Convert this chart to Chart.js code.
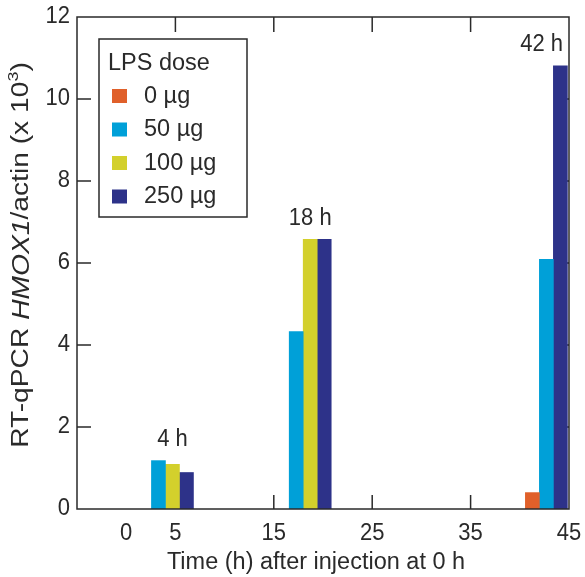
<!DOCTYPE html>
<html>
<head>
<meta charset="utf-8">
<script src="https://cdn.jsdelivr.net/npm/chart.js@4"></script>
<style>
  html,body{margin:0;padding:0;background:#fff}
  #wrap{width:585px;height:577px}
</style>
</head>
<body>
<div id="wrap"><canvas id="c" width="585" height="577"></canvas></div>
<script>
// ---- data ----
const doses = ['0 µg', '50 µg', '100 µg', '250 µg'];
const groupX = [4.7, 18.7, 42.7];          // group centres
const groupLabels = ['4 h', '18 h', '42 h'];
const dose0   = [null, null, 0.40];
const dose50  = [1.18, 4.33, 6.09];
const dose100 = [1.09, 6.58, null];
const dose250 = [0.89, 6.58, 10.81];
const xTicks = [0, 5, 15, 25, 35, 45];
const yTicks = [0, 2, 4, 6, 8, 10, 12];

// ---- style ----
const doseColors = ['#e0602a', '#00a0d8', '#d3d02c', '#2d3289'];
const INK = '#2a2a2a';
const FONT = '"Liberation Sans", Arial, sans-serif';
const SY = 1.05;      // slight vertical stretch of lettering
const SY_TITLE = 1.2; // y title runs longer in the original

function txt(ctx, s, x, y, size, align, italic){
  ctx.save();
  ctx.translate(x, y);
  ctx.scale(1, SY);
  ctx.font = (italic ? 'italic ' : '') + size + 'px ' + FONT;
  ctx.fillStyle = INK;
  ctx.textAlign = align || 'center';
  ctx.textBaseline = 'middle';
  ctx.fillText(s, 0, 0);
  ctx.restore();
}

const series = [dose0, dose50, dose100, dose250];

const frame = {
  id: 'frame',
  // inward ticks, under the bars
  beforeDatasetsDraw(chart){
    const {ctx, chartArea: a, scales: {x, y}} = chart;
    ctx.save();
    ctx.strokeStyle = INK; ctx.lineWidth = 1.5;
    ctx.beginPath();
    x.ticks.forEach(t => {
      if (t.value <= x.min || t.value >= x.max || t.value === 0) return;
      const px = x.getPixelForValue(t.value);
      ctx.moveTo(px, a.bottom); ctx.lineTo(px, a.bottom - 14);
      ctx.moveTo(px, a.top); ctx.lineTo(px, a.top + 15);
    });
    y.ticks.forEach(t => {
      if (t.value <= y.min || t.value >= y.max) return;
      const py = y.getPixelForValue(t.value);
      ctx.moveTo(a.left, py); ctx.lineTo(a.left + 14, py);
      ctx.moveTo(a.right, py); ctx.lineTo(a.right - 7, py);
    });
    ctx.stroke();
    ctx.restore();
  },
  afterDatasetsDraw(chart){
    const {ctx, chartArea: a, scales: {x, y}} = chart;
    ctx.save();
    ctx.strokeStyle = INK; ctx.lineWidth = 1.5;
    ctx.strokeRect(a.left, a.top, a.right - a.left, a.bottom - a.top);

    // tick labels
    y.ticks.forEach(t => txt(ctx, String(t.value), a.left - 7, y.getPixelForValue(t.value), 22, 'right'));
    x.ticks.forEach(t => txt(ctx, String(t.value), x.getPixelForValue(t.value), a.bottom + 25, 22, 'center'));

    // x title
    txt(ctx, 'Time (h) after injection at 0 h', (a.left + a.right) / 2 - 7, a.bottom + 53, 23.5, 'center');

    // y title with italic gene name and superscript
    const runs = [
      ['RT-qPCR ', 23.5, false, 0],
      ['HMOX1', 23.5, true, 0],
      ['/actin (x 10', 23.5, false, 0],
      ['3', 15, false, -8],
      [')', 23.5, false, 0]
    ];
    let total = 0;
    runs.forEach(r => { ctx.font = (r[2] ? 'italic ' : '') + r[1] + 'px ' + FONT; r.push(ctx.measureText(r[0]).width); total += r[4]; });
    ctx.save();
    ctx.translate(22, (a.top + a.bottom) / 2 - 8);
    ctx.scale(1, SY_TITLE);
    ctx.rotate(-Math.PI / 2);
    ctx.fillStyle = INK; ctx.textBaseline = 'middle'; ctx.textAlign = 'left';
    let cx = -total / 2;
    runs.forEach(r => {
      ctx.font = (r[2] ? 'italic ' : '') + r[1] + 'px ' + FONT;
      ctx.fillText(r[0], cx, r[3]);
      cx += r[4];
    });
    ctx.restore();

    // time labels over each group
    groupX.forEach((gx, i) => {
      const top = Math.max(...series.map(s => s[i] == null ? 0 : s[i]));
      ctx.font = '22px ' + FONT;
      const w = ctx.measureText(groupLabels[i]).width;
      const cxl = Math.min(x.getPixelForValue(gx), a.right - 6 - w / 2);
      txt(ctx, groupLabels[i], cxl, y.getPixelForValue(top) - 21, 22, 'center');
    });

    // legend box
    const lx = a.left + 22, ly = a.top + 22;
    ctx.strokeRect(lx, ly, 148, 178);
    txt(ctx, 'LPS dose', lx + 9, ly + 24, 23.5, 'left');
    doses.forEach((d, k) => {
      const cy = ly + 57 + k * 33.5;
      ctx.fillStyle = doseColors[k];
      ctx.fillRect(lx + 13, cy - 7, 15, 14);
      txt(ctx, d, lx + 45, cy, 23.5, 'left');
    });
    ctx.restore();
  }
};

new Chart(document.getElementById('c'), {
  type: 'bar',
  data: {
    datasets: doses.map((d, k) => ({
      label: d,
      data: groupX.map((gx, i) => ({x: gx, y: series[k][i]})),
      backgroundColor: doseColors[k],
      barThickness: 14,
      skipNull: true
    }))
  },
  options: {
    responsive: false,
    animation: false,
    layout: {padding: {left: 0, right: 16, top: 17, bottom: 0}},
    plugins: {legend: {display: false}, tooltip: {enabled: false}},
    scales: {
      x: {
        type: 'linear', min: -5, max: 45, offset: false,
        grid: {display: false, offset: false}, border: {display: false},
        ticks: {display: false},
        afterBuildTicks: s => { s.ticks = xTicks.map(v => ({value: v})); },
        afterFit: s => { s.height = 68; }
      },
      y: {
        min: 0, max: 12,
        grid: {display: false}, border: {display: false},
        ticks: {display: false},
        afterBuildTicks: s => { s.ticks = yTicks.map(v => ({value: v})); },
        afterFit: s => { s.width = 77; }
      }
    }
  },
  plugins: [frame]
});
</script>
</body>
</html>
